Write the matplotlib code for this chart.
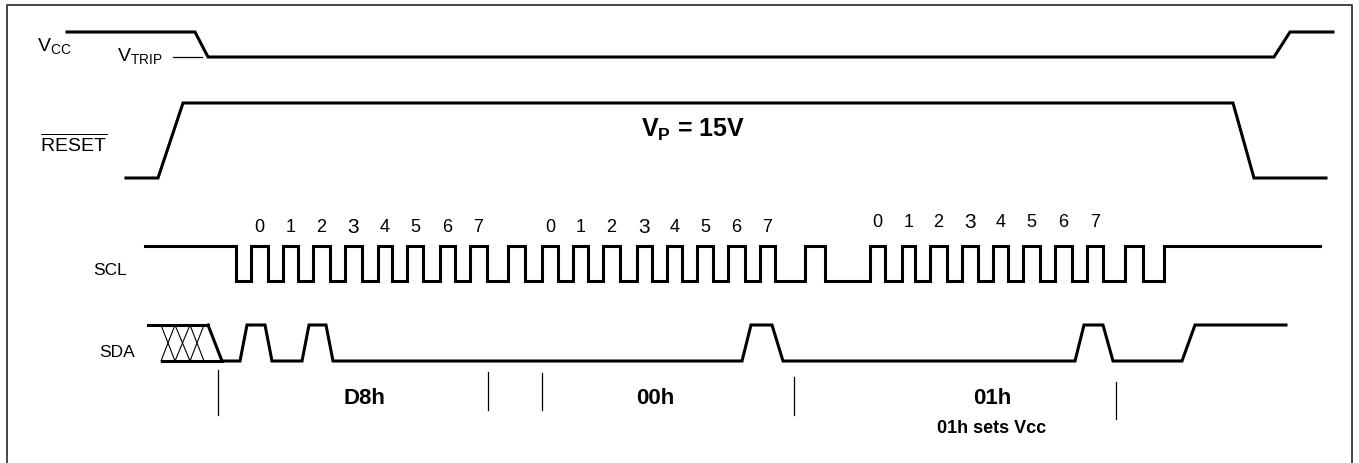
import matplotlib
matplotlib.use("Agg")
import matplotlib.pyplot as plt

plt.rcParams['font.family'] = ['Liberation Sans', 'DejaVu Sans']
plt.rcParams['mathtext.fontset'] = 'custom'
plt.rcParams['mathtext.rm'] = 'Liberation Sans'
plt.rcParams['mathtext.it'] = 'Liberation Sans'
plt.rcParams['mathtext.bf'] = 'Liberation Sans:bold'

# waveforms: time (px along the diagram) and logic level 0/1
vcc_t = [67, 195, 208, 1274, 1290, 1333]
vcc_v = [1, 1, 0, 0, 1, 1]

reset_t = [126, 158, 183, 1233, 1254, 1326]
reset_v = [0, 0, 1, 1, 0, 0]

# SCL: starts high at scl_start, toggles at each edge, ends high at scl_end
scl_start, scl_end = 145, 1320
scl_edges = [236, 251, 268, 283, 298, 313, 330, 345, 362, 378, 392, 407, 423,
             440, 455, 470, 487, 508, 525, 542, 558, 573, 588, 603, 620, 637,
             652, 667, 682, 697, 713, 728, 745, 760, 775, 805, 825, 870, 885,
             902, 915, 930, 947, 962, 978, 993, 1008, 1023, 1040, 1055, 1072,
             1087, 1103, 1125, 1143, 1164]

sda_t = [222, 240, 247, 265, 272, 302, 309, 326, 333, 742, 751, 772, 783,
         1075, 1084, 1103, 1113, 1182, 1195, 1286]
sda_v = [0, 0, 1, 1, 0, 0, 1, 1, 0, 0, 1, 1, 0, 0, 1, 1, 0, 0, 1, 1]

# undefined (hatched) SDA region before start
sda_x_top = [148, 208]
sda_x_bot = [162, 222]
sda_x_cross = [161, 175, 190, 204]

# bits labelled over SCL pulses (pulse index), per byte
byte_pulses = [list(range(0, 8)), list(range(9, 17)), list(range(18, 26))]
byte_label_y = [228, 228, 223]
bit_names = ['0', '1', '2', '3', '4', '5', '6', '7']

# byte boundaries and names
markers = [(218, 371, 416), (488, 373, 411), (542, 374, 411),
           (794, 378, 416), (1116, 383, 420)]
byte_names = ['D8h', '00h', '01h']
byte_name_x = [364, 655, 992]

# rows: (high y, low y)
row_vcc = (33, 58)
row_reset = (104, 179)
row_scl = (247, 282)
row_sda = (326, 362)


def level_y(v, row):
    return [row[1] - x * (row[1] - row[0]) for x in v]


fig = plt.figure(figsize=(13.59, 4.64), dpi=100)
ax = fig.add_axes([0, 0, 1, 1])
ax.set_xlim(0, 1359)
ax.set_ylim(464, 0)
ax.axis('off')

lw = 2.2
ax.plot(vcc_t, level_y(vcc_v, row_vcc), color='black', lw=lw, solid_joinstyle='miter')
ax.plot(reset_t, level_y(reset_v, row_reset), color='black', lw=lw, solid_joinstyle='miter')

# build SCL square wave
xs, lv = [scl_start], [1]
cur = 1
for e in scl_edges:
    xs += [e, e]
    lv += [cur, 1 - cur]
    cur = 1 - cur
xs.append(scl_end)
lv.append(cur)
ax.plot(xs, level_y(lv, row_scl), color='black', lw=lw, solid_joinstyle='miter')

ax.plot(sda_t, level_y(sda_v, row_sda), color='black', lw=lw, solid_joinstyle='miter')
# hatched region
ax.plot(sda_x_top, [row_sda[0]] * 2, color='black', lw=lw)
ax.plot(sda_x_bot, [row_sda[1]] * 2, color='black', lw=lw)
ax.plot([sda_x_top[1], sda_x_bot[1]], [row_sda[0], row_sda[1]], color='black', lw=lw)
for a, b in zip(sda_x_cross[:-1], sda_x_cross[1:]):
    ax.plot([a, b], [row_sda[0], row_sda[1]], color='black', lw=0.8)
    ax.plot([a, b], [row_sda[1], row_sda[0]], color='black', lw=0.8)

# VTRIP reference tick
ax.plot([173, 202], [row_vcc[1], row_vcc[1]], color='black', lw=0.9)

# markers
for x, y0, y1 in markers:
    ax.plot([x, x], [y0, y1], color='black', lw=0.9)

# bit numbers
rises = scl_edges[1::2]
falls = scl_edges[2::2]
for grp, yy in zip(byte_pulses, byte_label_y):
    for i, name in zip(grp, bit_names):
        cx = (rises[i] + falls[i]) / 2
        ax.text(cx, yy, name, ha='center', va='center',
                fontsize=15 if name == '3' else 13)

# labels
ax.text(37, 51, r'V$_{\mathrm{CC}}$', fontsize=14, va='baseline')
ax.text(117, 61, r'V$_{\mathrm{TRIP}}$', fontsize=14, va='baseline')
ax.text(40, 152, r'$\overline{\mathrm{RESET}}$', fontsize=14, va='baseline')
ax.text(693, 137, r'$\mathbf{V_P}$ = 15V', fontsize=18, fontweight='bold',
        ha='center', va='baseline')
ax.text(110, 275, 'SCL', fontsize=12.5, ha='center', va='baseline')
ax.text(117, 357, 'SDA', fontsize=12.5, ha='center', va='baseline')

for x, name in zip(byte_name_x, byte_names):
    ax.text(x, 404, name, fontsize=16, fontweight='bold', ha='center', va='baseline')
ax.text(992, 433, '01h sets Vcc', fontsize=13, fontweight='bold', ha='center', va='baseline')

# frame
ax.plot([7, 7, 1352, 1352], [464, 6, 6, 464], color='#444444', lw=1.4)

fig.savefig('out.png', dpi=100)
